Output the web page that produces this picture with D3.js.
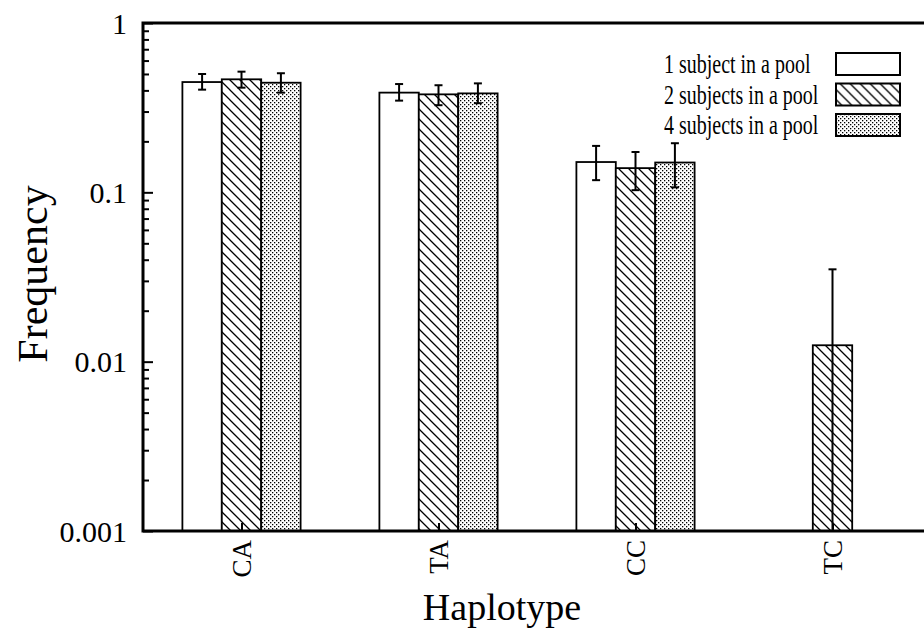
<!DOCTYPE html>
<html>
<head>
<meta charset="utf-8">
<script src="https://cdn.jsdelivr.net/npm/d3@7"></script>
<style>
  body { margin: 0; background: #fff; }
  svg { display: block; font-family: 'Liberation Serif', 'Times New Roman', serif; }
</style>
</head>
<body>
<svg width="924" height="632"></svg>
<script>
var categories = ['CA', 'TA', 'CC', 'TC']
var seriesNames = ['1 subject in a pool', '2 subjects in a pool', '4 subjects in a pool']

// bar heights and error bar ends, one array per pool size (null = no bar)
var one = [0.448, 0.388, 0.151, null]
var oneLow = [0.404, 0.348, 0.118, null]
var oneHigh = [0.500, 0.436, 0.188, null]

var two = [0.465, 0.379, 0.139, 0.0125]
var twoLow = [0.415, 0.327, 0.103, 0.0005]
var twoHigh = [0.516, 0.429, 0.173, 0.0351]

var four = [0.444, 0.384, 0.150, null]
var fourLow = [0.388, 0.336, 0.107, null]
var fourHigh = [0.505, 0.440, 0.195, null]

var yTicks = [1, 0.1, 0.01, 0.001]
var yTickLabels = ['1', '0.1', '0.01', '0.001']

;(function (d3) {
  var svg = d3.select('svg')

  var left = 143
  var right = 931
  var top = 23
  var bottom = 531

  var x = d3.scaleLinear()
    .domain([-0.5, categories.length - 0.5])
    .range([left, right])

  var y = d3.scaleLog()
    .domain([0.001, 1])
    .range([bottom, top])
    .clamp(true)

  var barW = 0.2

  var defs = svg.append('defs')

  var hatch = defs.append('pattern')
    .attr('id', 'hatch')
    .attr('patternUnits', 'userSpaceOnUse')
    .attr('width', 10)
    .attr('height', 10)
  hatch.append('rect').attr('width', 10).attr('height', 10).attr('fill', '#fff')
  hatch.append('path')
    .attr('d', 'M-5,-5L15,15M-5,5L5,15M5,-5L15,5')
    .attr('stroke', '#000')
    .attr('stroke-width', 1.3)

  var dots = defs.append('pattern')
    .attr('id', 'dots')
    .attr('patternUnits', 'userSpaceOnUse')
    .attr('width', 4)
    .attr('height', 4)
  dots.append('rect').attr('width', 4).attr('height', 4).attr('fill', '#fff')
  dots.append('rect').attr('x', 0).attr('y', 0).attr('width', 1.3).attr('height', 1.3).attr('fill', '#000')
  dots.append('rect').attr('x', 2).attr('y', 2).attr('width', 1.3).attr('height', 1.3).attr('fill', '#000')

  defs.append('clipPath')
    .attr('id', 'plot')
    .append('rect')
    .attr('x', left)
    .attr('y', top)
    .attr('width', right - left)
    .attr('height', bottom - top)

  var fills = ['#fff', 'url(#hatch)', 'url(#dots)']

  var series = [
    {vals: one, lo: oneLow, hi: oneHigh},
    {vals: two, lo: twoLow, hi: twoHigh},
    {vals: four, lo: fourLow, hi: fourHigh}
  ]

  var bars = []
  series.forEach(function (s, k) {
    s.vals.forEach(function (v, i) {
      if (v === null) return
      bars.push({i: i, k: k, v: v, lo: s.lo[i], hi: s.hi[i]})
    })
  })

  var plot = svg.append('g').attr('clip-path', 'url(#plot)')

  plot.selectAll('rect.bar')
    .data(bars)
    .enter()
    .append('rect')
    .attr('class', 'bar')
    .attr('x', function (d) { return x(d.i + (d.k - 1) * barW - barW / 2) })
    .attr('width', function (d) { return x(barW) - x(0) })
    .attr('y', function (d) { return y(d.v) })
    .attr('height', function (d) { return bottom - y(d.v) })
    .style('fill', function (d) { return fills[d.k] })
    .style('stroke', '#000')
    .style('stroke-width', 1.8)

  var err = plot.selectAll('g.err')
    .data(bars)
    .enter()
    .append('g')
    .attr('class', 'err')
    .style('stroke', '#000')
    .style('stroke-width', 2)

  var cx = function (d) { return x(d.i + (d.k - 1) * barW) }

  err.append('line')
    .attr('x1', cx).attr('x2', cx)
    .attr('y1', function (d) { return y(d.lo) })
    .attr('y2', function (d) { return y(d.hi) })
  err.append('line')
    .attr('x1', function (d) { return cx(d) - 4 })
    .attr('x2', function (d) { return cx(d) + 4 })
    .attr('y1', function (d) { return y(d.hi) })
    .attr('y2', function (d) { return y(d.hi) })
  err.filter(function (d) { return d.lo > 0.001 })
    .append('line')
    .attr('x1', function (d) { return cx(d) - 4 })
    .attr('x2', function (d) { return cx(d) + 4 })
    .attr('y1', function (d) { return y(d.lo) })
    .attr('y2', function (d) { return y(d.lo) })

  // y axis with inward ticks
  var minor = []
  d3.range(-3, 0).forEach(function (e) {
    d3.range(2, 10).forEach(function (m) { minor.push(m * Math.pow(10, e)) })
  })

  var yAxisMajor = d3.axisRight(y)
    .tickValues(yTicks)
    .tickFormat('')
    .tickSize(10)
  var yAxisMinor = d3.axisRight(y)
    .tickValues(minor)
    .tickFormat('')
    .tickSize(6)

  ;[yAxisMajor, yAxisMinor].forEach(function (ax) {
    var g = svg.append('g')
      .attr('transform', 'translate(' + left + ',0)')
      .call(ax)
    g.select('.domain').remove()
    g.selectAll('line').style('stroke', '#000').style('stroke-width', 2)
  })

  svg.selectAll('text.ylab')
    .data(yTicks)
    .enter()
    .append('text')
    .attr('class', 'ylab')
    .attr('x', 127)
    .attr('y', function (d) { return y(d) })
    .attr('dy', '0.35em')
    .attr('text-anchor', 'end')
    .style('font-size', '30px')
    .text(function (d, i) { return yTickLabels[i] })

  // x axis: inward tick at each group centre, rotated labels
  var xAxis = d3.axisTop(x)
    .tickValues(d3.range(categories.length))
    .tickFormat('')
    .tickSize(8)
  var gx = svg.append('g')
    .attr('transform', 'translate(0,' + bottom + ')')
    .call(xAxis)
  gx.select('.domain').remove()
  gx.selectAll('line').style('stroke', '#000').style('stroke-width', 2)

  svg.selectAll('text.xlab')
    .data(categories)
    .enter()
    .append('text')
    .attr('class', 'xlab')
    .attr('transform', function (d, i) {
      return 'translate(' + x(i) + ',' + (bottom + 9) + ') rotate(-90)'
    })
    .attr('text-anchor', 'end')
    .attr('dy', '0.35em')
    .style('font-size', '27px')
    .text(function (d) { return d })

  // frame
  svg.append('path')
    .attr('d', 'M' + right + ',' + top + 'H' + left + 'V' + bottom + 'H' + right)
    .style('fill', 'none')
    .style('stroke', '#000')
    .style('stroke-width', 3)

  // axis titles
  svg.append('text')
    .attr('transform', 'translate(47,274) rotate(-90)')
    .attr('text-anchor', 'middle')
    .style('font-size', '42px')
    .text('Frequency')

  svg.append('text')
    .attr('x', 502)
    .attr('y', 620)
    .attr('text-anchor', 'middle')
    .style('font-size', '38px')
    .text('Haplotype')

  // legend
  var legend = svg.selectAll('g.legend')
    .data(seriesNames)
    .enter()
    .append('g')
    .attr('class', 'legend')
    .attr('transform', function (d, i) { return 'translate(0,' + (53 + i * 30.5) + ')' })

  legend.append('rect')
    .attr('x', 836)
    .attr('y', 0)
    .attr('width', 64)
    .attr('height', 22)
    .style('fill', function (d, i) { return fills[i] })
    .style('stroke', '#000')
    .style('stroke-width', 2)

  legend.append('text')
    .attr('transform', 'translate(664,11) scale(0.74,1)')
    .attr('dy', '0.35em')
    .style('font-size', '27px')
    .text(function (d) { return d })
})(window.d3)
</script>
</body>
</html>
